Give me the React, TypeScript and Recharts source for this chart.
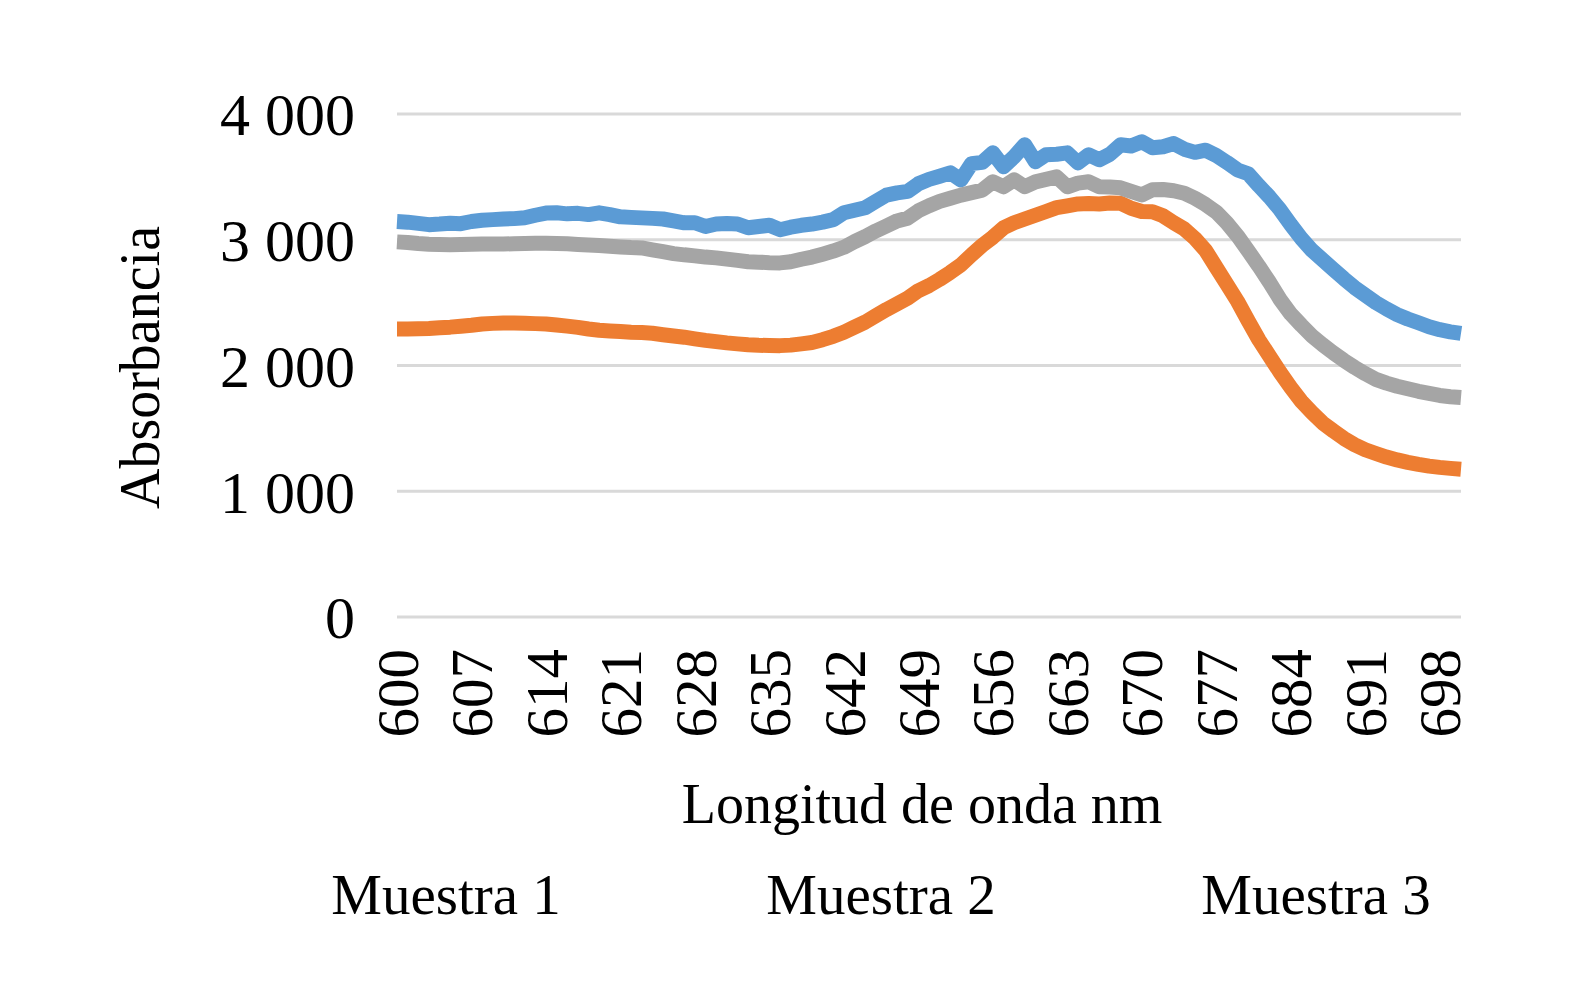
import { LineChart, Line, XAxis, YAxis, CartesianGrid, Legend } from "recharts";

const FONT = '"Liberation Serif", "Times New Roman", serif';

const WAVELENGTHS = [
  600, 601, 602, 603, 604, 605, 606, 607, 608, 609,
  610, 611, 612, 613, 614, 615, 616, 617, 618, 619,
  620, 621, 622, 623, 624, 625, 626, 627, 628, 629,
  630, 631, 632, 633, 634, 635, 636, 637, 638, 639,
  640, 641, 642, 643, 644, 645, 646, 647, 648, 649,
  650, 651, 652, 653, 654, 655, 656, 657, 658, 659,
  660, 661, 662, 663, 664, 665, 666, 667, 668, 669,
  670, 671, 672, 673, 674, 675, 676, 677, 678, 679,
  680, 681, 682, 683, 684, 685, 686, 687, 688, 689,
  690, 691, 692, 693, 694, 695, 696, 697, 698, 699,
  700,
];

// Muestra 1 (blue)
const MUESTRA_1 = [
  3145, 3140, 3130, 3120, 3125, 3132, 3128, 3145, 3155, 3160,
  3165, 3168, 3175, 3195, 3212, 3215, 3206, 3210, 3200, 3214,
  3200, 3182, 3178, 3174, 3170, 3165, 3150, 3135, 3135, 3105,
  3125, 3130, 3125, 3095, 3105, 3115, 3080, 3100, 3115, 3125,
  3140, 3160, 3215, 3235, 3255, 3305, 3355, 3373, 3385, 3445,
  3480, 3505, 3532, 3476, 3605, 3615, 3691, 3580, 3660, 3755,
  3620, 3676, 3680, 3691, 3611, 3676, 3636, 3680, 3755, 3745,
  3779, 3731, 3740, 3765, 3720, 3695, 3712, 3670, 3615, 3555,
  3525, 3430, 3340, 3238, 3120, 3010, 2915, 2840, 2765, 2690,
  2620, 2560, 2500, 2450, 2405, 2370, 2340, 2308, 2285, 2268,
  2255,
];

// Muestra 2 (orange)
const MUESTRA_2 = [
  2290, 2290, 2292, 2295, 2300, 2305, 2312, 2320, 2330, 2335,
  2338, 2338, 2336, 2333, 2330, 2322, 2313, 2303, 2290, 2280,
  2275, 2270, 2265, 2262, 2256, 2245, 2235, 2225, 2212, 2200,
  2190, 2180, 2172, 2165, 2161, 2159, 2158, 2162, 2172, 2183,
  2205, 2232, 2265, 2305, 2345, 2395, 2445, 2490, 2535, 2595,
  2635, 2685, 2740, 2800, 2880, 2955, 3020, 3095, 3135, 3165,
  3195, 3225, 3255, 3270, 3285, 3288, 3285, 3292, 3290, 3250,
  3225, 3222, 3190, 3135, 3085, 3010, 2915, 2780, 2645, 2510,
  2355, 2205, 2075, 1945, 1825, 1715, 1625, 1543, 1480, 1420,
  1370, 1330, 1300, 1272, 1249, 1230, 1214, 1200, 1190, 1182,
  1175,
];

// Muestra 3 (gray)
const MUESTRA_3 = [
  2983, 2978, 2970, 2965, 2962, 2960, 2962, 2965, 2967, 2967,
  2966, 2968, 2970, 2972, 2973, 2971, 2968, 2963, 2959, 2954,
  2948, 2943, 2938, 2935, 2920, 2905, 2890, 2880, 2872, 2862,
  2856, 2846, 2836, 2825, 2822, 2818, 2816, 2825, 2845, 2862,
  2885, 2910, 2940, 2985, 3025, 3070, 3110, 3150, 3172, 3230,
  3270, 3305, 3330, 3355, 3375, 3395, 3461, 3421, 3477, 3421,
  3460, 3480, 3500, 3421, 3450, 3461, 3421, 3420, 3413, 3385,
  3357, 3397, 3400, 3390, 3370, 3330, 3280, 3220, 3134, 3030,
  2912, 2790, 2662, 2525, 2410, 2320, 2235, 2165, 2100, 2040,
  1985, 1935, 1890, 1860, 1835, 1815, 1795, 1778, 1762, 1752,
  1745,
];

const Y_TICKS = [0, 1000, 2000, 3000, 4000];

const SERIES = [
  { key: "m1", name: "Muestra 1", color: "#5B9BD5" },
  { key: "m2", name: "Muestra 2", color: "#ED7D31" },
  { key: "m3", name: "Muestra 3", color: "#A5A5A5" },
];

const data = WAVELENGTHS.map((nm, i) => ({
  nm,
  m1: MUESTRA_1[i],
  m2: MUESTRA_2[i],
  m3: MUESTRA_3[i],
}));

const formatThousands = (v: number) =>
  String(v).replace(/\B(?=(\d{3})+(?!\d))/g, " ");

function WaveTick({ x, y, payload }: any) {
  return (
    <text
      x={x}
      y={y}
      transform={`rotate(-90 ${x} ${y})`}
      textAnchor="end"
      dy="0.35em"
      fontFamily={FONT}
      fontSize={59}
      fill="#000"
    >
      {payload.value}
    </text>
  );
}

function LegendNames() {
  return (
    <div
      style={{
        position: "relative",
        height: 70,
        fontFamily: FONT,
        fontSize: 57,
        lineHeight: "70px",
        color: "#000",
      }}
    >
      {SERIES.map((s, i) => (
        <span
          key={s.key}
          style={{
            position: "absolute",
            top: 0,
            left: 446 + i * 435,
            transform: "translateX(-50%)",
            whiteSpace: "nowrap",
          }}
        >
          {s.name}
        </span>
      ))}
    </div>
  );
}

export default function App() {
  return (
    <div style={{ width: 1583, height: 996, background: "#fff", overflow: "hidden" }}>
      <style>{`html,body{margin:0;padding:0;overflow:hidden}`}</style>
      <LineChart
        width={1583}
        height={996}
        data={data}
        margin={{ top: 114, right: 122, bottom: 66, left: 0 }}
      >
        <CartesianGrid vertical={false} stroke="#D9D9D9" strokeWidth={3} />
        <XAxis
          dataKey="nm"
          interval={6}
          axisLine={false}
          tickLine={false}
          tickSize={0}
          tickMargin={32}
          height={243}
          tick={<WaveTick />}
          label={({ viewBox }: any) => (
            <text
              x={viewBox.x + viewBox.width / 2 - 7}
              y={viewBox.y + 206}
              textAnchor="middle"
              fontFamily={FONT}
              fontSize={56}
              fill="#000"
            >
              Longitud de onda nm
            </text>
          )}
        />
        <YAxis
          domain={[0, 4000]}
          ticks={Y_TICKS}
          width={397}
          axisLine={false}
          tickLine={false}
          tickSize={0}
          tickMargin={42}
          tickFormatter={formatThousands}
          tick={{ fontFamily: FONT, fontSize: 60, fill: "#000" }}
          label={({ viewBox }: any) => {
            const cx = viewBox.x + 159;
            const cy = viewBox.y + viewBox.height / 2 + 2;
            return (
              <text
                x={cx}
                y={cy}
                transform={`rotate(-90 ${cx} ${cy})`}
                textAnchor="middle"
                fontFamily={FONT}
                fontSize={56}
                fill="#000"
              >
                Absorbancia
              </text>
            );
          }}
        />
        <Legend verticalAlign="bottom" height={70} content={<LegendNames />} />
        {SERIES.map((s) => (
          <Line
            key={s.key}
            type="linear"
            dataKey={s.key}
            name={s.name}
            stroke={s.color}
            strokeWidth={15}
            strokeLinecap="butt"
            strokeLinejoin="round"
            dot={false}
            activeDot={false}
            isAnimationActive={false}
          />
        ))}
      </LineChart>
    </div>
  );
}
